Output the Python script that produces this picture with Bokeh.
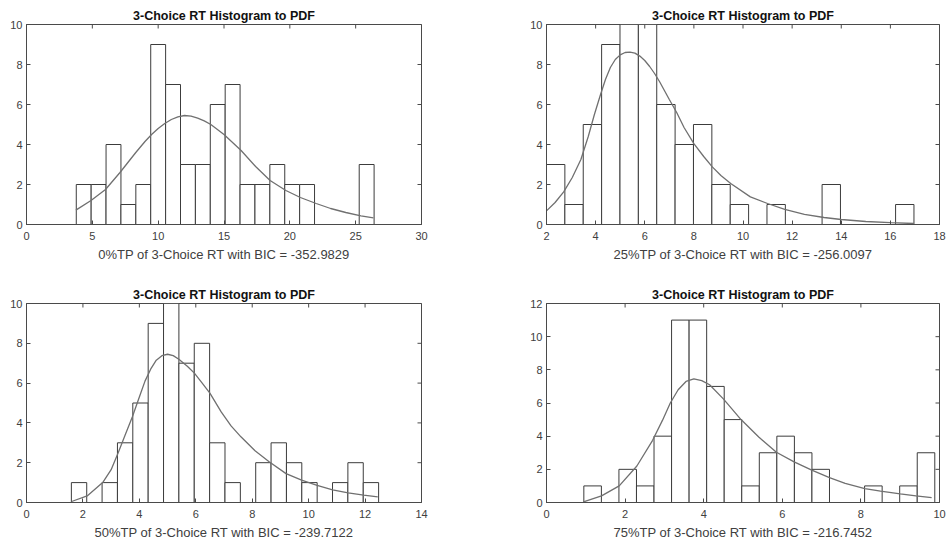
import math
from bokeh.plotting import figure
from bokeh.layouts import column, row
from bokeh.models import Range1d, FixedTicker
from bokeh.embed import file_html
from bokeh.resources import INLINE

# ---------------- data ----------------
title_text = "3-Choice RT Histogram to PDF"

labels = [
    "0%TP of 3-Choice RT with BIC = -352.9829",
    "25%TP of 3-Choice RT with BIC = -256.0097",
    "50%TP of 3-Choice RT with BIC = -239.7122",
    "75%TP of 3-Choice RT with BIC = -216.7452",
]

# histogram bins (start, width) and counts (20 bins each)
bin_start = [3.78, 2.0, 1.59, 0.95]
bin_width = [1.131, 0.748, 0.5445, 0.4465]

counts_0 = [2, 2, 4, 1, 2, 9, 7, 3, 3, 6, 7, 2, 2, 3, 2, 2, 0, 0, 0, 3]
counts_25 = [3, 1, 5, 9, 10, 10, 6, 4, 5, 2, 1, 0, 1, 0, 0, 2, 0, 0, 0, 1]
counts_50 = [1, 0, 1, 3, 5, 9, 10, 7, 8, 3, 1, 0, 2, 3, 2, 1, 0, 1, 2, 1]
counts_75 = [1, 0, 2, 1, 4, 11, 11, 7, 5, 1, 3, 4, 3, 2, 0, 0, 1, 0, 1, 3]

# fitted PDF curves
pdf_x_0 = [3.75, 4.9, 6.0, 7.1, 8.3, 9.0, 9.5, 10.0, 10.5, 11.0, 11.5, 12.0,
           12.5, 13.0, 13.5, 14.0, 15.0, 16.3, 17.4, 18.5, 19.7, 20.8, 22.0,
           23.1, 24.25, 25.4, 26.35]
pdf_y_0 = [0.72, 1.2, 1.75, 2.6, 3.6, 4.15, 4.5, 4.8, 5.05, 5.25, 5.38, 5.45,
           5.42, 5.32, 5.18, 5.0, 4.5, 3.7, 2.9, 2.2, 1.7, 1.35, 1.05,
           0.8, 0.6, 0.43, 0.33]

pdf_x_25 = [2.0, 2.35, 2.7, 3.05, 3.4, 3.7, 3.95, 4.2, 4.4, 4.6, 4.8, 5.0,
            5.2, 5.4, 5.6, 5.8, 6.0, 6.2, 6.4, 6.6, 7.0, 7.3, 7.6, 8.0, 8.4,
            8.75, 9.1, 9.5, 10.3, 11.0, 11.7, 12.5, 13.3, 14.0, 15.0, 16.0,
            16.96]
pdf_y_25 = [0.68, 1.1, 1.63, 2.35, 3.25, 4.4, 5.5, 6.5, 7.25, 7.85, 8.25, 8.48,
            8.6, 8.62, 8.57, 8.42, 8.2, 7.9, 7.55, 7.15, 6.25, 5.6, 4.85,
            4.04, 3.4, 2.88, 2.45, 2.05, 1.38, 1.05, 0.76, 0.51, 0.35, 0.25,
            0.15, 0.09, 0.05]

pdf_x_50 = [1.6, 2.15, 2.7, 3.0, 3.25, 3.5, 3.75, 4.0, 4.2, 4.4, 4.6, 4.8,
            5.0, 5.2, 5.4, 5.7, 5.95, 6.2, 6.5, 6.9, 7.25, 7.6, 8.1, 8.6, 9.2,
            9.75, 10.3, 10.85, 11.4, 11.95, 12.45]
pdf_y_50 = [0.05, 0.33, 1.0, 1.65, 2.5, 3.4, 4.3, 5.3, 6.1, 6.7, 7.15, 7.38,
            7.45, 7.38, 7.2, 6.85, 6.5, 6.05, 5.5, 4.55, 3.85, 3.3, 2.6, 2.05,
            1.45, 1.12, 0.86, 0.64, 0.48, 0.37, 0.28]

pdf_x_75 = [0.94, 1.4, 1.85, 2.3, 2.7, 2.95, 3.15, 3.35, 3.55, 3.75, 3.95,
            4.15, 4.5, 4.95, 5.4, 5.85, 6.3, 6.75, 7.2, 7.6, 8.1, 8.5, 9.0,
            9.4, 9.8]
pdf_y_75 = [0.04, 0.4, 1.0, 2.2, 3.75, 4.95, 6.0, 6.8, 7.3, 7.45, 7.35,
            7.1, 6.25, 5.0, 3.95, 3.03, 2.45, 1.95, 1.5, 1.15, 0.84, 0.68,
            0.52, 0.4, 0.3]

x_ranges = [(0, 30), (2, 18), (0, 14), (0, 10)]
y_ranges = [(0, 10), (0, 10), (0, 10), (0, 12)]
x_ticks = [[0, 5, 10, 15, 20, 25, 30], [2, 4, 6, 8, 10, 12, 14, 16, 18],
           [0, 2, 4, 6, 8, 10, 12, 14], [0, 2, 4, 6, 8, 10]]
y_ticks = [[0, 2, 4, 6, 8, 10], [0, 2, 4, 6, 8, 10], [0, 2, 4, 6, 8, 10],
           [0, 2, 4, 6, 8, 10, 12]]

all_counts = [counts_0, counts_25, counts_50, counts_75]
all_pdf = [(pdf_x_0, pdf_y_0), (pdf_x_25, pdf_y_25),
           (pdf_x_50, pdf_y_50), (pdf_x_75, pdf_y_75)]

# ---------------- styling ----------------
FONT = "Liberation Sans"
AX = "#4a4a4a"
TXT = "#404040"

# (left, right, top, bottom) borders for each panel
borders = [(26, 52, 24, 47), (73, 7, 24, 47), (26, 52, 32, 39), (73, 7, 32, 39)]


def style_axis(ax, ticks):
    ax.ticker = FixedTicker(ticks=ticks)
    ax.axis_line_color = AX
    ax.major_tick_line_color = AX
    ax.major_tick_in = 4
    ax.major_tick_out = 0
    ax.minor_tick_line_color = None
    ax.major_label_text_font = FONT
    ax.major_label_text_color = TXT
    ax.major_label_text_font_size = "11px"


def make_panel(i):
    l, r, t, b = borders[i]
    x0, x1 = x_ranges[i]
    y0, y1 = y_ranges[i]
    p = figure(width=473, height=271, output_backend="svg", toolbar_location=None,
               x_range=Range1d(x0, x1), y_range=Range1d(y0, y1),
               min_border_left=l, min_border_right=r, min_border_top=t,
               min_border_bottom=b)
    p.title.text = title_text
    p.title.align = "center"
    p.title.text_font = FONT
    p.title.text_font_size = "12.5px"
    p.title.text_font_style = "bold"
    p.title.text_color = "#111111"
    p.title.offset = 0
    p.title.standoff = 3
    p.xgrid.visible = False
    p.ygrid.visible = False
    p.outline_line_color = AX
    p.background_fill_color = "white"
    p.border_fill_color = "white"

    counts = all_counts[i]
    lefts = [bin_start[i] + k * bin_width[i] for k in range(len(counts))]
    rights = [bin_start[i] + (k + 1) * bin_width[i] for k in range(len(counts))]
    p.quad(left=lefts, right=rights, bottom=0, top=counts,
           fill_color="white", line_color="#3c3c3c", line_width=1)
    px, py = all_pdf[i]
    p.line(px, py, line_color="#707070", line_width=1.3)

    style_axis(p.xaxis[0], x_ticks[i])
    style_axis(p.yaxis[0], y_ticks[i])
    p.xaxis[0].major_label_standoff = 7
    p.yaxis[0].major_label_standoff = 4
    p.xaxis[0].axis_label = labels[i]
    p.xaxis[0].axis_label_text_font = FONT
    p.xaxis[0].axis_label_text_font_size = "13px"
    p.xaxis[0].axis_label_text_font_style = "normal"
    p.xaxis[0].axis_label_text_color = TXT
    p.xaxis[0].axis_label_standoff = 4

    # box ticks on the top and right edges (MATLAB "box on" style)
    p.scatter(x=x_ticks[i], y=[y1] * len(x_ticks[i]), marker="dash",
              angle=math.pi / 2, size=8, line_color=AX, line_width=1)
    p.scatter(x=[x1] * len(y_ticks[i]), y=y_ticks[i], marker="dash",
              size=8, line_color=AX, line_width=1)
    return p


panels = [make_panel(i) for i in range(4)]
layout = column(row(panels[0], panels[1]), row(panels[2], panels[3]))

open("out.html", "w").write(file_html(layout, INLINE))
